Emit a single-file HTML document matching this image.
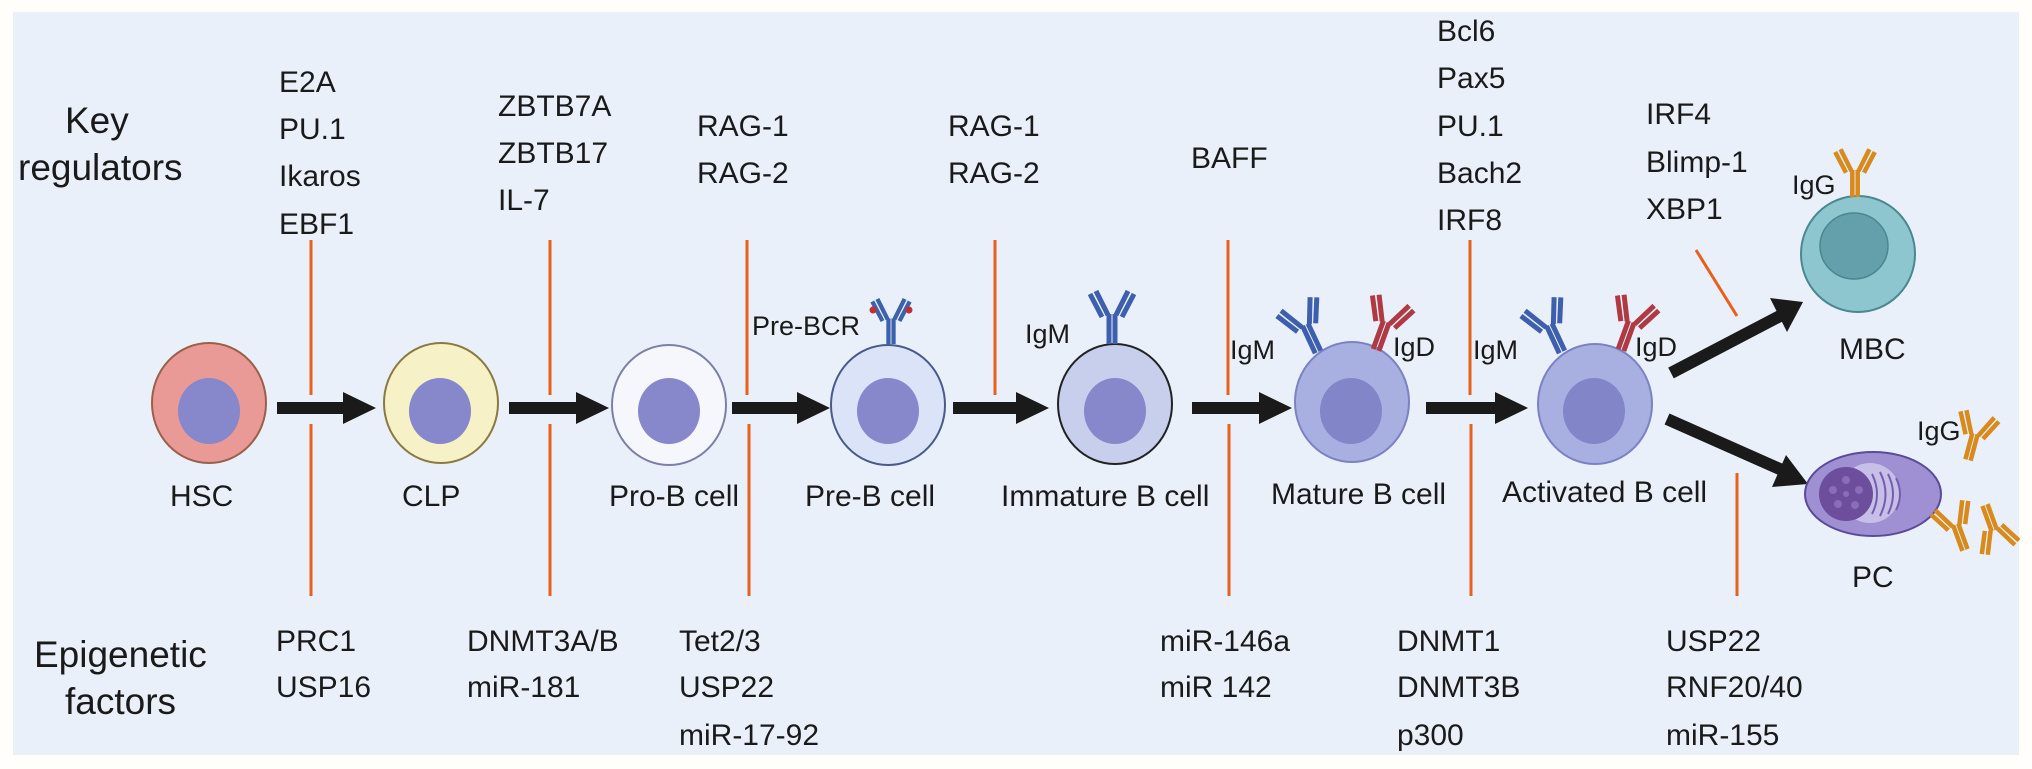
<!DOCTYPE html>
<html><head><meta charset="utf-8"><style>
html,body{margin:0;padding:0;background:#fff;}
svg{display:block;}
text{font-family:"Liberation Sans",Arial,sans-serif;fill:#1a1a1a;}
.t{font-size:30px;}
.L{font-size:37px;}
.s{font-size:27px;}
</style></head><body>
<svg width="2032" height="769" viewBox="0 0 2032 769" xmlns="http://www.w3.org/2000/svg">
<defs>
<g id="ab">
<g stroke-width="5" stroke-linecap="butt">
<line x1="-3" y1="0" x2="-3" y2="-30"/>
<line x1="3" y1="0" x2="3" y2="-30"/>
<line x1="-4" y1="-29" x2="-16" y2="-53"/>
<line x1="-10" y1="-27" x2="-22" y2="-50"/>
<line x1="4" y1="-29" x2="16" y2="-53"/>
<line x1="10" y1="-27" x2="22" y2="-50"/>
</g>
</g>
</defs>
<rect x="0" y="0" width="2032" height="769" fill="#fffefa"/>
<rect x="13" y="12" width="2006" height="743" fill="#eaf0fa"/>

<text class="L" x="65" y="133">Key</text>
<text class="L" x="18" y="180">regulators</text>
<text class="L" x="34" y="667">Epigenetic</text>
<text class="L" x="65" y="714">factors</text>

<text class="t" x="279" y="92">E2A</text><text class="t" x="279" y="139">PU.1</text><text class="t" x="279" y="186">Ikaros</text><text class="t" x="279" y="234">EBF1</text>
<text class="t" x="498" y="116">ZBTB7A</text><text class="t" x="498" y="163">ZBTB17</text><text class="t" x="498" y="210">IL-7</text>
<text class="t" x="697" y="136">RAG-1</text><text class="t" x="697" y="183">RAG-2</text>
<text class="t" x="948" y="136">RAG-1</text><text class="t" x="948" y="183">RAG-2</text>
<text class="t" x="1191" y="168">BAFF</text>
<text class="t" x="1437" y="41">Bcl6</text><text class="t" x="1437" y="88">Pax5</text><text class="t" x="1437" y="136">PU.1</text><text class="t" x="1437" y="183">Bach2</text><text class="t" x="1437" y="230">IRF8</text>
<text class="t" x="1646" y="124">IRF4</text><text class="t" x="1646" y="172">Blimp-1</text><text class="t" x="1646" y="219">XBP1</text>

<text class="t" x="276" y="651">PRC1</text><text class="t" x="276" y="697">USP16</text>
<text class="t" x="467" y="651">DNMT3A/B</text><text class="t" x="467" y="697">miR-181</text>
<text class="t" x="679" y="651">Tet2/3</text><text class="t" x="679" y="697">USP22</text><text class="t" x="679" y="745">miR-17-92</text>
<text class="t" x="1160" y="651">miR-146a</text><text class="t" x="1160" y="697">miR 142</text>
<text class="t" x="1397" y="651">DNMT1</text><text class="t" x="1397" y="697">DNMT3B</text><text class="t" x="1397" y="745">p300</text>
<text class="t" x="1666" y="651">USP22</text><text class="t" x="1666" y="697">RNF20/40</text><text class="t" x="1666" y="745">miR-155</text>

<g stroke="#e8601c" stroke-width="3">
<line x1="311" y1="240" x2="311" y2="395"/><line x1="311" y1="424" x2="311" y2="596"/>
<line x1="550" y1="240" x2="550" y2="395"/><line x1="550" y1="424" x2="550" y2="596"/>
<line x1="747" y1="240" x2="747" y2="395"/><line x1="749" y1="424" x2="749" y2="596"/>
<line x1="995" y1="240" x2="995" y2="395"/>
<line x1="1228" y1="240" x2="1228" y2="395"/><line x1="1229" y1="424" x2="1229" y2="596"/>
<line x1="1470" y1="240" x2="1470" y2="395"/><line x1="1471" y1="424" x2="1471" y2="596"/>
<line x1="1696" y1="250" x2="1737" y2="316"/>
<line x1="1737" y1="473" x2="1737" y2="596"/>
</g>

<g fill="#1a1a1a" stroke="none">
<rect x="277" y="402" width="68" height="12"/><polygon points="343,392 376,408 343,424"/>
<rect x="509" y="402" width="68" height="12"/><polygon points="576,392 609,408 576,424"/>
<rect x="732" y="402" width="66" height="12"/><polygon points="797,392 830,408 797,424"/>
<rect x="953" y="402" width="64" height="12"/><polygon points="1016,392 1049,408 1016,424"/>
<rect x="1192" y="402" width="68" height="12"/><polygon points="1259,392 1292,408 1259,424"/>
<rect x="1426" y="402" width="70" height="12"/><polygon points="1495,392 1528,408 1495,424"/>
</g>
<line x1="1671" y1="373" x2="1780" y2="316" stroke="#1a1a1a" stroke-width="12"/>
<polygon points="1803,302 1770,298 1787,332" fill="#1a1a1a"/>
<line x1="1667" y1="419" x2="1782" y2="470" stroke="#1a1a1a" stroke-width="12"/>
<polygon points="1808,484 1772,487 1786,455" fill="#1a1a1a"/>

<ellipse cx="209" cy="403" rx="57" ry="60" fill="#e99a96" stroke="#9a6048" stroke-width="2"/>
<ellipse cx="209" cy="411" rx="31" ry="33" fill="#8787cb"/>
<ellipse cx="441" cy="403" rx="57" ry="60" fill="#f7f1c8" stroke="#8a7a40" stroke-width="2"/>
<ellipse cx="440" cy="411" rx="31" ry="33" fill="#8787cb"/>
<ellipse cx="669" cy="405" rx="57" ry="60" fill="#f6f7fd" stroke="#7c80a4" stroke-width="2"/>
<ellipse cx="669" cy="411" rx="31" ry="33" fill="#8787cb"/>
<ellipse cx="888" cy="405" rx="57" ry="60" fill="#dae3f7" stroke="#4a5a8a" stroke-width="2"/>
<ellipse cx="888" cy="411" rx="31" ry="33" fill="#8787cb"/>
<ellipse cx="1115" cy="404" rx="57" ry="60" fill="#c7cfec" stroke="#222" stroke-width="2"/>
<ellipse cx="1115" cy="411" rx="31" ry="33" fill="#8787cb"/>
<ellipse cx="1352" cy="402" rx="57" ry="60" fill="#a8b0e2" stroke="#7a82c4" stroke-width="2"/>
<ellipse cx="1351" cy="411" rx="31" ry="33" fill="#8286c8"/>
<ellipse cx="1595" cy="404" rx="57" ry="60" fill="#a8b0e2" stroke="#7a82c4" stroke-width="2"/>
<ellipse cx="1594" cy="411" rx="31" ry="33" fill="#8286c8"/>
<ellipse cx="1858" cy="254" rx="57" ry="58" fill="#8ec6cf" stroke="#4a8890" stroke-width="2"/>
<ellipse cx="1854" cy="246" rx="34" ry="33" fill="#63a0ab" stroke="#4a8890" stroke-width="1.5"/>
<ellipse cx="1873" cy="494" rx="68" ry="42" fill="#9e90d2" stroke="#5a4a9a" stroke-width="2"/>
<ellipse cx="1870" cy="493" rx="30" ry="30" fill="#c6bfe8"/>
<circle cx="1846" cy="494" r="27" fill="#6c4e9c"/>
<g fill="#8a6cb8">
<circle cx="1846" cy="480" r="4"/><circle cx="1833" cy="490" r="4"/><circle cx="1859" cy="490" r="4"/><circle cx="1838" cy="504" r="4"/><circle cx="1855" cy="505" r="4"/><circle cx="1846" cy="494" r="3"/>
</g>
<g fill="none" stroke="#7a5cae" stroke-width="2">
<path d="M1872,474 q10,20 0,40"/><path d="M1880,472 q11,22 0,44"/><path d="M1888,474 q10,20 0,40"/><path d="M1896,478 q8,16 0,32"/>
</g>

<g stroke="#3d62ac"><use href="#ab" transform="translate(891,344) scale(0.85)"/></g>
<circle cx="873" cy="310" r="3.5" fill="#c03030"/><circle cx="909" cy="310" r="3.5" fill="#c03030"/>
<g stroke="#3d5fae"><use href="#ab" transform="translate(1112,344)"/></g>
<g stroke="#3d5fae"><use href="#ab" transform="translate(1318,352) rotate(-25)"/></g>
<g stroke="#b03a44"><use href="#ab" transform="translate(1376,350) rotate(20)"/></g>
<g stroke="#3d5fae"><use href="#ab" transform="translate(1562,352) rotate(-25)"/></g>
<g stroke="#b03a44"><use href="#ab" transform="translate(1621,350) rotate(20)"/></g>
<g stroke="#d88a1c"><use href="#ab" transform="translate(1855,197) scale(0.9)"/></g>
<g stroke="#d88a1c">
<use href="#ab" transform="translate(1968,460) rotate(15) scale(0.9)"/>
<use href="#ab" transform="translate(1985,505) rotate(160) scale(0.9)"/>
<use href="#ab" transform="translate(1965,550) rotate(-20) scale(0.9)"/>
</g>

<text class="s" x="752" y="335">Pre-BCR</text>
<text class="s" x="1025" y="343">IgM</text>
<text class="s" x="1230" y="359">IgM</text>
<text class="s" x="1393" y="356">IgD</text>
<text class="s" x="1473" y="359">IgM</text>
<text class="s" x="1635" y="356">IgD</text>
<text class="s" x="1792" y="194">IgG</text>
<text class="s" x="1917" y="440">IgG</text>

<text class="t" x="170" y="506">HSC</text>
<text class="t" x="402" y="506">CLP</text>
<text class="t" x="609" y="506">Pro-B cell</text>
<text class="t" x="805" y="506">Pre-B cell</text>
<text class="t" x="1001" y="506">Immature B cell</text>
<text class="t" x="1271" y="504">Mature B cell</text>
<text class="t" x="1502" y="502">Activated B cell</text>
<text class="t" x="1839" y="359">MBC</text>
<text class="t" x="1852" y="587">PC</text>
</svg>
</body></html>
